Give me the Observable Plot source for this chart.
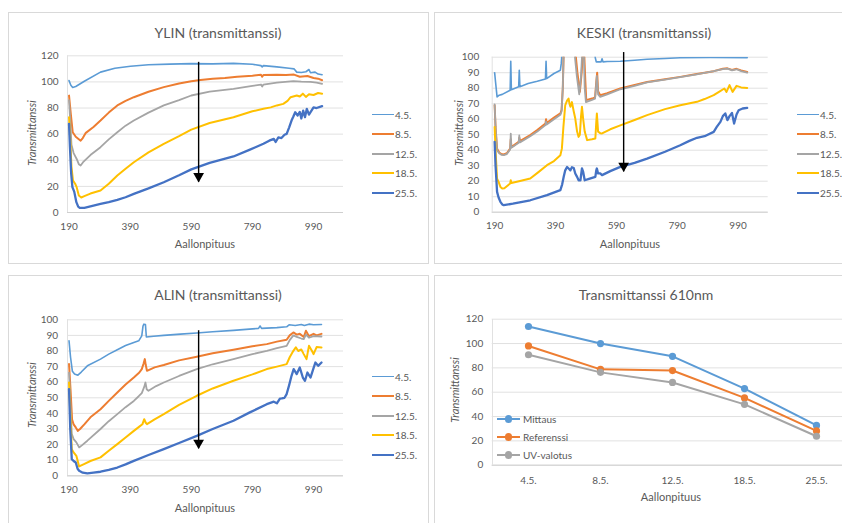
<!DOCTYPE html>
<html><head><meta charset="utf-8">
<script src="https://cdn.jsdelivr.net/npm/d3@7"></script>
<script src="https://cdn.jsdelivr.net/npm/@observablehq/plot@0.6"></script>
<style>
html,body{margin:0;padding:0;background:#fff;overflow:hidden;}
#root{position:relative;width:842px;height:523px;overflow:hidden;font-family:Lato,"Open Sans",sans-serif;color:#595959;}
.panel{position:absolute;border:1px solid #d9d9d9;box-sizing:border-box;background:#fff;}
.abs{position:absolute;white-space:nowrap;color:#595959;line-height:1;}
svg{overflow:visible;}
</style></head>
<body><div id="root"></div>
<script>
// ---------- data ----------
const dates = ["4.5.", "8.5.", "12.5.", "18.5.", "25.5."];
const dateColors = ["#5B9BD5", "#ED7D31", "#A5A5A5", "#FFC000", "#4472C4"];
const dateWidths = [1.6, 2, 1.8, 2, 2.3];
const xTicks = [190, 390, 590, 790, 990];
const arrowX = 614;

// YLIN  [wavelength, transmittance]
const ylin45 = [[190,101],[196,97.5],[202,95.8],[212,96.5],[240,100.5],[293,107.5],[340,110.5],[391,112],[450,113.2],[520,113.6],[590,114],[660,113.8],[728,114.2],[790,113.5],[818,112.5],[822,111.5],[826,112.5],[870,111.5],[910,110.5],[926,110],[935,107.5],[950,107.2],[965,107.8],[975,109.5],[980,107],[995,107.5],[1005,106],[1018,105.5]];
const ylin85 = [[190,89.5],[196,75],[202,61.5],[212,58],[220,56.5],[228,55],[235,57],[245,61],[270,65.5],[293,70.4],[320,76.5],[348,82],[375,85.5],[402,88.3],[450,92.5],[500,96],[550,98.8],[590,100.5],[620,101.5],[660,102.5],[700,103],[740,104],[790,104.8],[818,105.5],[822,104],[826,105.3],[870,105.5],[900,105.3],[926,105.6],[945,104],[970,104.5],[990,103],[1005,102.5],[1018,101.3]];
const ylin125 = [[190,86],[194,70],[198,52],[205,45.5],[215,41],[222,37],[228,36],[236,38.5],[260,44],[293,50],[320,56],[348,61.5],[375,66.5],[402,70.4],[450,76.5],[500,82],[550,86],[590,89.6],[650,92.5],[728,94.7],[790,97],[818,98],[822,96.5],[826,98],[870,99.5],[924,100.6],[950,100.2],[980,100],[1000,99.5],[1018,98.5]];
const ylin185 = [[190,73],[194,55],[198,35],[203,24.5],[210,22],[215,19.4],[222,13],[230,11.5],[240,12.5],[260,14.5],[293,16.8],[320,22],[348,28.3],[375,33.5],[402,38.5],[450,46],[500,52.6],[550,58.5],[590,63.5],[650,68.5],[728,73],[790,77.5],[826,79.4],[850,80.5],[870,82],[891,83.2],[905,85.5],[915,88.3],[935,89.6],[945,88.8],[955,91],[965,88.5],[975,90.5],[990,90],[1005,91.5],[1018,91]];
const ylin255 = [[190,67.9],[193,50],[197,30],[201,19.4],[207,16],[214,7.9],[220,4.5],[225,3.6],[240,3.5],[250,4.1],[270,5.3],[293,6.6],[320,8],[348,9.7],[375,11.7],[402,14.3],[450,18.5],[500,23.2],[550,28.5],[590,33],[650,38],[728,42.9],[780,48],[800,50],[826,52.6],[845,55],[860,56.4],[866,54],[875,57.5],[885,57],[895,59.5],[902,60.2],[910,65],[918,70.4],[924,73.5],[930,76.8],[938,74.3],[945,77],[950,72],[956,78],[962,73],[968,79.4],[975,75],[990,80.5],[1000,80],[1018,81.5]];

// KESKI
const keski45 = [[190,90],[193,84],[198,74.4],[205,75.5],[215,76],[241,78.7],[243,97.4],[245,79],[269,80.9],[271,91.6],[273,81],[300,83],[330,84.5],[357,86],[359,97.4],[361,86.2],[385,89.5],[406,91.6],[409,96],[412,104],[518,104],[521,99.5],[524,97],[540,97],[543,99],[546,97],[560,97.2],[603,97.4],[650,98],[691,98.7],[750,99.2],[800,99.6],[900,99.8],[1020,99.7]];
const keski85 = [[190,69],[193,55],[198,41],[205,38.5],[212,37.5],[220,37.2],[230,38],[241,41],[243,47],[245,42],[269,45.4],[271,48],[273,45.8],[307,49.7],[330,53],[357,57.2],[359,60],[361,57.5],[385,61],[406,63.7],[410,66],[414,80],[417,104],[455,104],[462,90],[470,77.6],[476,90],[480,104],[484,104],[488,85],[491,72.3],[510,73.3],[520,74],[524,84],[527,90],[530,78],[537,75.5],[560,76.8],[603,79.8],[650,82],[691,84],[750,85.8],[800,87.3],[850,89],[910,91],[940,92.5],[955,92.8],[970,91.8],[985,92.5],[1000,91.5],[1020,90.5]];
const keski125 = [[190,69.5],[193,55],[198,40],[205,38],[212,37],[220,36.8],[230,37.5],[241,40.5],[243,50.7],[245,41.5],[269,44.8],[271,49.5],[273,45],[307,49],[330,52],[357,56.2],[359,58.5],[361,56.5],[385,60],[406,62.8],[410,65],[414,80],[417,104],[452,104],[460,88],[468,76],[474,88],[478,104],[483,104],[486,80],[490,71],[510,72.5],[520,73.2],[523,80],[526,88],[530,76],[537,74.4],[560,76],[603,79.3],[650,81.5],[691,83.7],[750,85.5],[800,87.1],[850,88.8],[910,91],[940,92.3],[955,92.6],[970,91.5],[985,92.2],[1000,91],[1020,90]];
const keski185 = [[190,55],[193,40],[198,21.7],[203,19.5],[209,16.3],[215,15.3],[222,15.5],[241,18.5],[243,20.6],[245,18.8],[270,20],[307,21.7],[335,26],[362,30.3],[385,33],[406,36.8],[411,41],[416,55],[422,69],[428,72],[433,73.3],[436,70],[439,68],[444,71],[450,65],[455,60.4],[461,52],[466,48.6],[470,50],[474,62],[477,68],[481,60],[486,52],[494,46.5],[510,47],[521,47.5],[524,58],[526,63.7],[530,52],[537,51],[543,50.8],[570,53.5],[603,56],[650,59.5],[691,62.6],[750,66.5],[800,69],[855,71.2],[880,73],[910,75.5],[930,78],[945,79.8],[952,77.6],[962,82],[972,77.6],[985,81.5],[1000,80.5],[1020,80.2]];
const keski255 = [[190,45.4],[193,30],[198,13.1],[203,9.5],[209,6.7],[215,5],[220,4.5],[250,5.5],[307,7.7],[362,11],[406,14.2],[412,18],[417,22.8],[422,27],[428,29.2],[434,28],[439,27],[444,29],[450,28.5],[455,25],[461,22.8],[466,20.6],[472,20.6],[477,28.2],[481,26],[486,20.6],[500,21.5],[521,22.8],[524,27],[526,28.2],[530,25],[537,25],[543,23.9],[570,26.5],[603,29.2],[650,31.8],[691,34.6],[750,39],[800,43.2],[830,46],[855,48],[880,49],[910,51.8],[920,55],[932,58.3],[940,62],[948,63.7],[955,59.4],[962,62],[970,64],[977,57.2],[985,63],[992,65.8],[1005,66.9],[1020,67.3]];

// ALIN
const alin45 = [[190,86.5],[195,76],[201,67],[208,65.2],[219,64.5],[230,66.5],[250,70.5],[293,74.8],[320,78],[348,80.8],[375,83.5],[402,85.5],[418,86.5],[428,89.7],[432,96],[435,97.2],[440,97],[443,89],[467,89.5],[500,90],[554,90.8],[608,91.5],[660,92.3],[728,93.2],[780,94],[810,94.5],[815,96],[820,94.5],[870,95],[902,95.5],[910,96.8],[930,96.3],[950,97],[960,96.3],[975,97.2],[990,96.8],[1016,97]];
const alin85 = [[190,71.6],[195,55],[200,36],[205,33],[212,31],[219,28.8],[226,30],[240,33],[260,37.5],[293,42.7],[320,48],[348,53.4],[375,58.5],[402,63],[420,66.2],[428,68.4],[434,72],[438,74.8],[441,71],[445,67.3],[470,69.5],[500,71],[550,74],[608,76.3],[660,78.5],[728,80.8],[790,83],[837,84.4],[870,86],[902,87.2],[912,90],[924,91.9],[935,90.5],[945,91],[958,89],[965,93],[975,89.5],[990,91],[1000,90],[1016,91]];
const alin125 = [[190,66.2],[194,48],[199,27],[205,23.5],[214,21.4],[223,18.2],[232,19.5],[250,22.5],[293,30],[320,35],[348,39.5],[375,44],[402,48],[418,51],[428,53],[436,57],[440,59.8],[444,55.5],[450,54.5],[475,57.5],[500,59.8],[550,64],[608,68.4],[660,71.5],[728,74.8],[790,78],[837,80.1],[870,81.8],[902,83.3],[912,87],[924,90],[935,89],[950,88],[958,87.6],[965,90.5],[975,88.5],[990,89.5],[1016,89.3]];
const alin185 = [[190,59.8],[194,40],[199,17],[205,15],[214,12.8],[223,6],[239,7.5],[260,9.5],[293,11.8],[320,16],[348,20.3],[375,24.5],[402,28.8],[420,31.5],[430,33],[436,36.3],[441,34],[445,33.1],[470,36.2],[500,39.5],[550,45.5],[608,51.3],[660,56],[728,60.9],[790,65],[837,68.4],[870,70],[902,71.6],[912,76],[924,80.1],[932,82.3],[940,80],[950,81],[958,78],[967,74.8],[975,83.3],[985,80],[990,78],[1000,82.5],[1016,82.3]];
const alin255 = [[190,55.6],[194,30],[199,10.7],[205,9.5],[212,8.5],[218,4.5],[223,3.2],[235,2],[250,1.5],[270,2],[293,2.6],[320,3.8],[348,5.3],[375,7.3],[402,9.6],[450,13.3],[500,17.1],[550,21],[608,25.6],[660,30],[728,35.3],[780,40.5],[837,45.9],[860,47.5],[870,46.5],[880,49.5],[886,49.6],[895,50],[902,52.4],[910,58],[918,64.1],[925,68.4],[935,65.2],[945,69.4],[955,63],[962,60.9],[970,66.2],[980,63],[990,69],[996,72.6],[1005,70.5],[1016,72.6]];

// 610 nm summary
const seriesNames = ["Mittaus", "Referenssi", "UV-valotus"];
const seriesColors = ["#5B9BD5", "#ED7D31", "#A5A5A5"];
const mittaus = [114, 100, 89.5, 63, 32.7];
const referenssi = [98, 78.8, 77.8, 55.3, 28.2];
const uvValotus = [90.8, 76.3, 68, 50, 23.8];

// ---------- layout helpers ----------
const root = document.getElementById("root");
function box(l, t, w, h) {
  const d = document.createElement("div"); d.className = "panel";
  Object.assign(d.style, {left: l + "px", top: t + "px", width: w + "px", height: h + "px"});
  root.appendChild(d);
}
function text(str, x, y, o = {}) {
  const d = document.createElement("div"); d.className = "abs"; d.textContent = str;
  d.style.left = x + "px"; d.style.top = y + "px"; d.style.fontSize = (o.size || 11) + "px";
  d.style.transform = `translate(${o.start ? "0" : "-50%"},-50%)` + (o.rotate ? ` rotate(${o.rotate}deg)` : "");
  if (o.italic) d.style.fontStyle = "italic";
  root.appendChild(d); return d;
}
function place(svg, x, y) {
  svg.style.position = "absolute"; svg.style.left = x + "px"; svg.style.top = y + "px";
  root.appendChild(svg);
}
function lineLegend(x, y0, step) {
  dates.forEach((d, i) => {
    const y = y0 + i * step;
    const l = document.createElement("div");
    Object.assign(l.style, {position: "absolute", left: x + "px", top: (y - dateWidths[i] / 2) + "px",
      width: "22px", height: dateWidths[i] + "px", background: dateColors[i]});
    root.appendChild(l);
    text(d, x + 23, y, {start: true, size: 10});
  });
}

const gridColor = "#e1e1e1";
const axisColor = "#cfcfcf";

function spectrum({series, xDomain, yMax, yStep, width, height, mL, mT, mB, mR, yPad, arrowTop, arrowTip}) {
  const yTicks = d3.range(0, yMax + 0.001, yStep);
  const lines = series.map((pts, i) => Plot.line(pts, {x: d => d[0], y: d => d[1],
    stroke: dateColors[i], strokeWidth: dateWidths[i], clip: true, strokeLinejoin: "round"}));
  return Plot.plot({
    width, height, marginLeft: mL, marginTop: mT, marginBottom: mB, marginRight: mR,
    style: {fontFamily: "Lato, sans-serif", fontSize: "10px", color: "#595959", background: "transparent"},
    x: {domain: xDomain, label: null},
    y: {domain: [0, yMax], label: null},
    marks: [
      Plot.gridY(yTicks, {stroke: gridColor, strokeOpacity: 1}),
      Plot.ruleX([xDomain[0]], {stroke: gridColor}),
      Plot.ruleY([0], {stroke: axisColor}),
      Plot.axisY(yTicks, {tickSize: 0, tickPadding: yPad, label: null}),
      Plot.axisX(xTicks, {tickSize: 0, tickPadding: 10, tickFormat: d => String(d), label: null}),
      ...lines,
      Plot.ruleX([arrowX], {y1: arrowTop, y2: arrowTip, stroke: "#000", strokeWidth: 1.4}),
      Plot.dot([arrowX], {x: d => d, y: arrowTip, symbol: "triangle", r: 4, rotate: 180, fill: "#000", stroke: "none", dy: -6})
    ]
  });
}

// ---------- panels ----------
box(8, 12, 421, 252);
box(434, 12, 420, 252);
box(8, 275, 421, 260);
box(434, 275, 420, 260);

// YLIN
place(spectrum({series: [ylin45, ylin85, ylin125, ylin185, ylin255], xDomain: [185, 1088], yMax: 120, yStep: 20,
  width: 333, height: 197, mL: 52, mT: 15.3, mB: 25, mR: 5, yPad: 9, arrowTop: 115, arrowTip: 23.2}), 15, 40);
text("YLIN (transmittanssi)", 218, 33, {size: 14});
text("Aallonpituus", 205, 243, {size: 11});
text("Transmittanssi", 31, 133, {size: 11, italic: true, rotate: -90});
lineLegend(372, 114.5, 19.6);

// KESKI
place(spectrum({series: [keski45, keski85, keski125, keski185, keski255], xDomain: [182, 1089], yMax: 100, yStep: 10,
  width: 332.7, height: 196.7, mL: 51.7, mT: 16.7, mB: 25, mR: 5, yPad: 13, arrowTop: 103, arrowTip: 26}), 440, 40);
text("KESKI (transmittanssi)", 644, 33, {size: 14});
text("Aallonpituus", 630, 243, {size: 11});
text("Transmittanssi", 458, 133, {size: 11, italic: true, rotate: -90});
lineLegend(797, 114.5, 19.6);

// ALIN
place(spectrum({series: [alin45, alin85, alin125, alin185, alin255], xDomain: [185, 1088], yMax: 100, yStep: 10,
  width: 333, height: 200.3, mL: 52, mT: 19.3, mB: 25, mR: 5, yPad: 9.5, arrowTop: 93, arrowTip: 17.3}), 15, 300);
text("ALIN (transmittanssi)", 218, 295, {size: 14});
text("Aallonpituus", 205, 507, {size: 11});
text("Transmittanssi", 31, 395, {size: 11, italic: true, rotate: -90});
lineLegend(372, 376.5, 19.6);

// Transmittanssi 610nm
const rows = [mittaus, referenssi, uvValotus].flatMap((vals, s) =>
  vals.map((v, i) => ({date: dates[i], value: v, series: seriesNames[s]})));
const summary = Plot.plot({
  width: 412, height: 190, marginLeft: 51.7, marginTop: 18.7, marginBottom: 25.3, marginRight: 0,
  style: {fontFamily: "Lato, sans-serif", fontSize: "10px", color: "#595959", background: "transparent"},
  x: {type: "point", domain: dates, padding: 0.5, label: null},
  y: {domain: [0, 120], label: null},
  color: {domain: seriesNames, range: seriesColors},
  marks: [
    Plot.gridY(d3.range(0, 121, 20), {stroke: gridColor, strokeOpacity: 1}),
    Plot.ruleY([0], {stroke: axisColor}),
    Plot.axisY(d3.range(0, 121, 20), {tickSize: 0, tickPadding: 9, label: null}),
    Plot.axisX({tickSize: 0, tickPadding: 12, label: null}),
    Plot.line(rows, {x: "date", y: "value", z: "series", stroke: "series", strokeWidth: 2}),
    Plot.dot(rows, {x: "date", y: "value", fill: "series", r: 3.6, stroke: "none"})
  ]
});
place(summary, 440, 300);
// left frame line of the summary plot
const fl = document.createElement("div");
Object.assign(fl.style, {position: "absolute", left: "491.5px", top: "318.7px", width: "1px", height: "146px", background: gridColor});
root.appendChild(fl);
text("Transmittanssi 610nm", 646, 295, {size: 14});
text("Aallonpituus", 671, 496, {size: 11});
text("Transmittanssi", 454, 390, {size: 11, italic: true, rotate: -90});
seriesNames.forEach((n, i) => {
  const y = 419 + i * 18;
  const l = document.createElement("div");
  Object.assign(l.style, {position: "absolute", left: "497px", top: (y - 1) + "px", width: "23px", height: "2px", background: seriesColors[i]});
  root.appendChild(l);
  const c = document.createElement("div");
  Object.assign(c.style, {position: "absolute", left: (508.5 - 3.6) + "px", top: (y - 3.6) + "px", width: "7.2px", height: "7.2px", borderRadius: "50%", background: seriesColors[i]});
  root.appendChild(c);
  text(n, 523, y, {start: true, size: 10});
});
</script>
</body></html>
